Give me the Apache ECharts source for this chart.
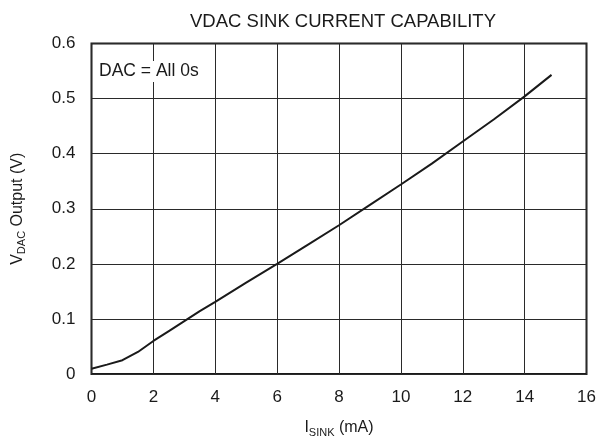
<!DOCTYPE html>
<html>
<head>
<meta charset="utf-8">
<script src="https://cdn.jsdelivr.net/npm/echarts@6/dist/echarts.min.js"></script>
<style>
  html, body { margin: 0; padding: 0; background: #fff; }
  #chart { width: 611px; height: 443px; }
</style>
</head>
<body>
<div id="chart"></div>
<script>
// Sink current (mA) and resulting VDAC output voltage (V)
const sinkCurrent = [0, 0.5, 1, 1.5, 2, 2.5, 3, 3.5, 4, 5, 6, 7, 8, 9, 10, 11, 12, 13, 14, 14.87];
const vdacOutput  = [0.0095, 0.017, 0.025, 0.04, 0.06, 0.078, 0.096, 0.114, 0.131, 0.166, 0.2, 0.235, 0.27, 0.307, 0.344, 0.382, 0.422, 0.462, 0.504, 0.543];

const xTicks = { min: 0, max: 16, step: 2 };
const yTicks = { min: 0, max: 0.6, step: 0.1 };

const font = 'Liberation Sans, Arial, sans-serif';
const ink = '#1a1a1a';

const chart = echarts.init(document.getElementById('chart'), null, { renderer: 'canvas' });

chart.setOption({
  backgroundColor: '#fff',
  animation: false,
  title: [
    {
      text: 'VDAC SINK CURRENT CAPABILITY',
      left: 338, top: 7, textAlign: 'center',
      textStyle: { fontFamily: font, fontSize: 18.5, fontWeight: 'normal', color: ink }
    },
    {
      text: 'DAC = All 0s',
      left: 97, top: 61,
      padding: [1, 2, 2, 2],
      backgroundColor: '#fff',
      textStyle: { fontFamily: font, fontSize: 17.5, fontWeight: 'normal', color: ink }
    }
  ],
  grid: {
    left: 91.5, right: 24.5, top: 43.5, bottom: 66,
    show: true, borderColor: ink, borderWidth: 2, backgroundColor: 'transparent'
  },
  xAxis: {
    type: 'value',
    min: xTicks.min, max: xTicks.max, interval: xTicks.step,
    name: '{n|I}{s|SINK}{n| (mA)}',
    nameLocation: 'middle', nameGap: 44,
    nameTextStyle: {
      rich: {
        n: { fontFamily: font, fontSize: 16, color: ink },
        s: { fontFamily: font, fontSize: 11, color: ink, verticalAlign: 'bottom', padding: [9, 0, 0, 0] }
      }
    },
    axisLine: { show: false },
    axisTick: { show: false },
    axisLabel: { margin: 15, fontFamily: font, fontSize: 17, color: ink },
    splitLine: { show: true, lineStyle: { color: '#2a2a2a', width: 1 } }
  },
  yAxis: {
    type: 'value',
    min: yTicks.min, max: yTicks.max, interval: yTicks.step,
    name: '{n|V}{s|DAC}{n| Output (V)}',
    nameLocation: 'middle', nameGap: 64, nameRotate: 90,
    nameTextStyle: {
      rich: {
        n: { fontFamily: font, fontSize: 16, color: ink },
        s: { fontFamily: font, fontSize: 11, color: ink, verticalAlign: 'bottom', padding: [9, 0, 0, 0] }
      }
    },
    axisLine: { show: false },
    axisTick: { show: false },
    axisLabel: {
      margin: 16, fontFamily: font, fontSize: 17, color: ink,
      formatter: v => (v === 0 ? '0' : v.toFixed(1))
    },
    splitLine: { show: true, lineStyle: { color: '#2a2a2a', width: 1 } }
  },
  series: [{
    type: 'line',
    data: sinkCurrent.map((x, i) => [x, vdacOutput[i]]),
    symbol: 'none',
    lineStyle: { color: ink, width: 2 },
    z: 3
  }]
});
</script>
</body>
</html>
